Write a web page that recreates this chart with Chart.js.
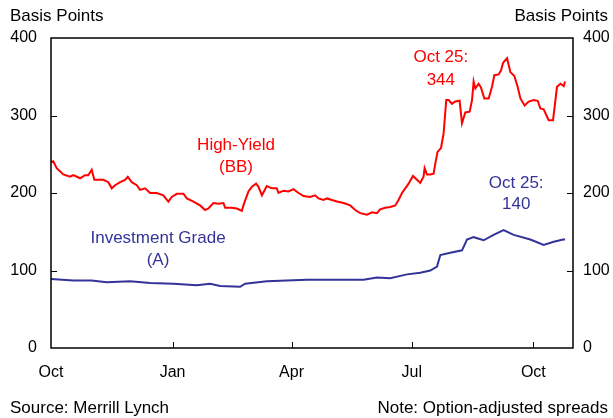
<!DOCTYPE html>
<html><head><meta charset="utf-8">
<script src="https://cdn.jsdelivr.net/npm/chart.js@4.4.0/dist/chart.umd.min.js"></script>
<style>html,body{margin:0;padding:0;background:#fff;}#wrap{width:613px;height:418px;position:relative}</style>
</head><body><div id="wrap"><canvas id="c" width="613" height="418"></canvas></div>
<script>
// x values are days since Oct 1, 2001
const tickDays = [0, 92, 182, 273, 365];
const tickLabels = ['Oct', 'Jan', 'Apr', 'Jul', 'Oct'];
const yTickValues = [0, 100, 200, 300, 400];

const hyDays = [0,1.7,4.3,9.3,14.4,16.9,22,25.7,28.2,30.8,32.8,37.1,39.6,43.4,46,48.5,52.3,56,58.1,61.1,64.9,67.4,71.2,75,80,85,88.8,91.4,95.2,100.2,102.8,107.8,112.8,116.6,119.1,122.9,126.7,130.5,131.8,136.8,140.6,144.4,145.6,149.4,152,155.2,157,159.6,163.3,167.1,170.9,172.1,175.9,179.7,183.5,187.3,191.1,196.1,199.9,202.4,206.2,208.8,212.6,216.4,221.4,226.4,230.2,234,239.1,242.9,246.6,249.1,252.9,256.7,260.5,263,265.6,268.1,270.6,273.9,276.9,279.4,281.9,282.7,284.5,287,289.5,290.8,292.5,295.1,297.1,299.1,300.9,303.4,305.9,309.2,311,313.5,316.8,318.6,319.8,321.1,323.6,325.4,327.9,331.2,333.7,335.5,338.7,340.5,342.1,345.1,347.6,350.6,353.1,355.2,358.4,361.5,365.2,368.3,370.3,372.8,376.6,379.9,382.9,385.5,388,389];
const hyValues = [240,241,232,224,221,223,219,223,223,230,217,217,217,214,206,210,214,217,221,214,210,204,206,200,200,197,189,195,199,199,193,189,184,178,180,187,186,187,181,181,180,177,184,202,208,212,208,197,209,206,206,200,203,202,205,200,196,195,197,193,191,193,191,189,187,184,178,174,172,175,174,179,181,182,184,191,200,206,212,222,217,213,221,232,224,224,225,238,253,258,277,320,320,315,318,319,290,304,305,320,344,335,341,336,322,322,337,352,353,358,368,374,356,351,337,322,313,318,320,319,309,308,294,294,337,341,338,344];

const igDays = [0,16.9,30.8,42.2,59.8,75,92.6,110.3,120.4,128,143.1,146.9,163.3,178.5,193.6,218.9,236.5,246.6,256.7,269.4,279.4,287,292.1,294.6,302.2,311,314.8,319.8,327.4,334.9,342.5,350.1,362.7,372.8,380.4,387.5,389];
const igValues = [89,87,87,85,86,84,83,81,83,80,79,83,86,87,88,88,88,91,90,95,97,100,105,120,123,126,140,143,139,146,152,146,140,133,137,140,140];

const RED = '#ff0000';
const BLUE = '#333399';
const FONT = '"Liberation Sans", Arial, sans-serif';

const toPts = (xs, ys) => xs.map((x, i) => ({x: x, y: ys[i]}));

const overlay = {
  id: 'overlay',
  afterDraw(chart) {
    const ctx = chart.ctx;
    const a = chart.chartArea;
    const xs = chart.scales.x, ys = chart.scales.y;
    ctx.save();
    ctx.strokeStyle = '#000';
    ctx.lineWidth = 1.5;
    ctx.strokeRect(a.left, a.top, a.right - a.left, a.bottom - a.top);
    ctx.lineWidth = 1;
    ctx.beginPath();
    yTickValues.slice(1, -1).forEach(v => {
      const py = Math.round(ys.getPixelForValue(v)) + 0.5;
      ctx.moveTo(a.left, py); ctx.lineTo(a.left + 6, py);
      ctx.moveTo(a.right, py); ctx.lineTo(a.right - 6, py);
    });
    tickDays.slice(1).forEach(d => {
      const px = Math.round(xs.getPixelForValue(d)) + 0.5;
      ctx.moveTo(px, a.bottom); ctx.lineTo(px, a.bottom - 6);
    });
    ctx.stroke();
    ctx.font = '17px ' + FONT;
    ctx.fillStyle = '#000';
    ctx.textBaseline = 'middle';
    ctx.textAlign = 'left';
    ctx.fillText('Basis Points', 10, 16);
    ctx.fillText('Source: Merrill Lynch', 10, 408);
    ctx.textAlign = 'right';
    ctx.fillText('Basis Points', 608, 16);
    ctx.fillText('Note: Option-adjusted spreads', 608, 408);
    ctx.textAlign = 'center';
    const lbl = (t, d, v, c) => { ctx.fillStyle = c; ctx.fillText(t, xs.getPixelForValue(d), ys.getPixelForValue(v)); };
    lbl('High-Yield', 140, 262, RED);
    lbl('(BB)', 140, 233, RED);
    lbl('Oct 25:', 295, 375, RED);
    lbl('344', 295, 345, RED);
    lbl('Investment Grade', 81, 142, BLUE);
    lbl('(A)', 81, 113, BLUE);
    lbl('Oct 25:', 352, 213, BLUE);
    lbl('140', 352, 186, BLUE);
    ctx.restore();
  }
};

new Chart(document.getElementById('c'), {
  type: 'line',
  data: {
    datasets: [
      {label: 'High-Yield (BB)', data: toPts(hyDays, hyValues), borderColor: RED, borderWidth: 2, pointRadius: 0, tension: 0, yAxisID: 'y'},
      {label: 'Investment Grade (A)', data: toPts(igDays, igValues), borderColor: BLUE, borderWidth: 2, pointRadius: 0, tension: 0, yAxisID: 'y'}
    ]
  },
  options: {
    responsive: false,
    animation: false,
    layout: {padding: {top: 38, left: 0, right: 0, bottom: 0}},
    plugins: {legend: {display: false}, tooltip: {enabled: false}},
    scales: {
      x: {
        type: 'linear', min: 0, max: 395,
        grid: {display: false, drawTicks: false},
        border: {display: false},
        afterBuildTicks: s => { s.ticks = tickDays.map(v => ({value: v})); },
        afterFit: s => { s.height = 70; },
        ticks: {
          autoSkip: false, maxRotation: 0, padding: 15,
          color: '#000', font: {family: FONT, size: 16},
          callback: (v) => { const i = tickDays.indexOf(v); return i >= 0 ? tickLabels[i] : ''; }
        }
      },
      y: {
        position: 'left', min: 0, max: 400,
        grid: {display: false, drawTicks: false},
        border: {display: false},
        afterBuildTicks: s => { s.ticks = yTickValues.map(v => ({value: v})); },
        afterFit: s => { s.width = 51; },
        ticks: {padding: 14, color: '#000', font: {family: FONT, size: 16}}
      },
      y2: {
        display: true, position: 'right', min: 0, max: 400,
        grid: {display: false, drawTicks: false},
        border: {display: false},
        afterBuildTicks: s => { s.ticks = yTickValues.map(v => ({value: v})); },
        afterFit: s => { s.width = 40; },
        ticks: {padding: 10, color: '#000', font: {family: FONT, size: 16}}
      }
    }
  },
  plugins: [overlay]
});
</script>
</body></html>
